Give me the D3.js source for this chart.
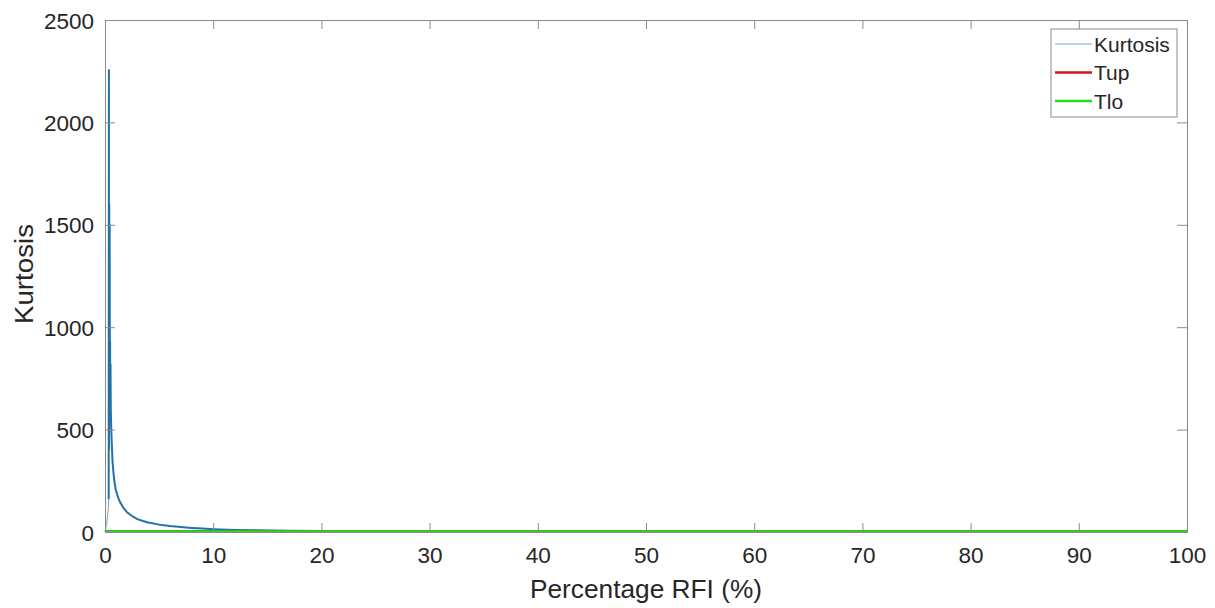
<!DOCTYPE html>
<html>
<head>
<meta charset="UTF-8">
<title>Kurtosis vs Percentage RFI</title>
<script src="https://d3js.org/d3.v7.min.js"></script>
<style>
  body { margin: 0; background: #fff; }
  text { font-family: "Liberation Sans", Arial, sans-serif; fill: #262626; }
  .axis path, .axis line { stroke: #8a8a8a; }
</style>
</head>
<body>
<div id="chart"></div>
<script>
// data
const xTicks = [0, 10, 20, 30, 40, 50, 60, 70, 80, 90, 100];
const yTicks = [0, 500, 1000, 1500, 2000, 2500];

// thin rise from the origin up to the spike
const riseX = [0, 0.15, 0.3, 0.34];
const riseY = [0, 40, 110, 160];

// kurtosis curve (percentage RFI, kurtosis)
const kurtX = [0.34, 0.36, 0.37, 0.39, 0.41, 0.43, 0.45, 0.47, 0.49, 0.51, 0.53, 0.55, 0.58, 0.62, 0.66, 0.7, 0.8, 0.9, 1.0, 1.2, 1.4, 1.7, 2.0, 2.5, 3, 3.5, 4, 5, 6, 7, 8, 9, 10, 12, 14, 17, 20, 25, 30, 40, 60, 80, 100];
const kurtY = [160, 2256, 400, 1600, 600, 1500, 700, 930, 560, 820, 620, 560, 500, 440, 390, 340, 280, 235, 205, 170, 145, 118, 98, 78, 63, 54, 46, 36, 29, 24, 20, 17, 14, 10, 8, 6, 4.5, 3.5, 3, 2.5, 2, 1.8, 1.6];

// thresholds
const tupX = [0, 100];
const tupY = [3.4, 3.4];
const tloX = [0, 100];
const tloY = [2.5, 2.5];

const legendNames = ["Kurtosis", "Tup", "Tlo"];
const legendColors = ["#a9c9d8", "#d01818", "#22dd22"];

const width = 1215, height = 608;
const margin = {top: 20, right: 28, bottom: 76, left: 105};
const w = width - margin.left - margin.right;
const h = height - margin.top - margin.bottom;

const svg = d3.select("#chart").append("svg")
  .attr("width", width).attr("height", height);
const g = svg.append("g").attr("transform", `translate(${margin.left},${margin.top})`);

const x = d3.scaleLinear().domain([0, 100]).range([0, w]);
const y = d3.scaleLinear().domain([0, 2500]).range([h, 0]);

const line = d3.line().x(d => x(d[0])).y(d => y(d[1]));
const zip = (a, b) => a.map((v, i) => [v, b[i]]);

g.append("path").datum(zip(riseX, riseY))
  .attr("d", line).attr("fill", "none")
  .attr("stroke", "#8fb0c0").attr("stroke-width", 1.2);

g.append("path").datum(zip(kurtX, kurtY))
  .attr("d", line).attr("fill", "none")
  .attr("stroke", "#2272aa").attr("stroke-width", 2)
  .attr("stroke-linejoin", "round");

g.append("path").datum(zip(tupX, tupY))
  .attr("d", line).attr("fill", "none")
  .attr("stroke", "#d01818").attr("stroke-width", 2.5);

g.append("path").datum(zip(tloX, tloY))
  .attr("d", line).attr("fill", "none")
  .attr("stroke", "#22dd22").attr("stroke-width", 2.5);

// axes, matlab style box with inner ticks
const fmt = d3.format("d");
const xb = g.append("g").attr("class", "axis").attr("transform", `translate(0,${h})`)
  .call(d3.axisBottom(x).tickValues(xTicks).tickFormat(fmt).tickSizeInner(-9).tickSizeOuter(0).tickPadding(15));
g.append("g").attr("class", "axis")
  .call(d3.axisTop(x).tickValues(xTicks).tickSizeInner(-9).tickSizeOuter(0).tickFormat(""));
const yl = g.append("g").attr("class", "axis")
  .call(d3.axisLeft(y).tickValues(yTicks).tickFormat(fmt).tickSizeInner(-10).tickSizeOuter(0).tickPadding(11));
g.append("g").attr("class", "axis").attr("transform", `translate(${w},0)`)
  .call(d3.axisRight(y).tickValues(yTicks).tickSizeInner(-10).tickSizeOuter(0).tickFormat(""));

[xb, yl].forEach(a => a.selectAll("text").style("font-size", "22.5px").attr("fill", "#262626"));
xb.selectAll("text").attr("dy", "0.71em");
yl.selectAll("text").attr("dy", "0.36em");

// axis labels
svg.append("text")
  .attr("x", 646).attr("y", 598)
  .attr("text-anchor", "middle").style("font-size", "25px")
  .attr("textLength", 232).attr("lengthAdjust", "spacingAndGlyphs")
  .text("Percentage RFI (%)");
svg.append("text")
  .attr("transform", `translate(33,${margin.top + h / 2 - 2}) rotate(-90)`)
  .attr("text-anchor", "middle").style("font-size", "25px")
  .attr("textLength", 100).attr("lengthAdjust", "spacingAndGlyphs")
  .text("Kurtosis");

// legend
const lg = svg.append("g").attr("transform", "translate(1051,29)");
lg.append("rect").attr("width", 126).attr("height", 88)
  .attr("fill", "#fff").attr("stroke", "#8a8a8a");
legendNames.forEach((name, i) => {
  const yy = 15 + i * 28.5;
  lg.append("line").attr("x1", 4).attr("x2", 41).attr("y1", yy).attr("y2", yy)
    .attr("stroke", legendColors[i]).attr("stroke-width", i === 0 ? 1.5 : 2.5);
  lg.append("text").attr("x", 43).attr("y", yy).attr("dy", "0.36em")
    .style("font-size", "21px").text(name);
});
</script>
</body>
</html>
